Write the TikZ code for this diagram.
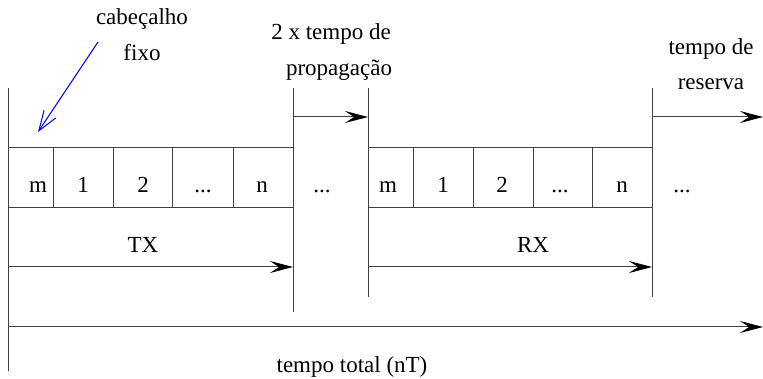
\documentclass[tikz,border=0pt]{standalone}
\usepackage{fontspec}
\setmainfont{Liberation Serif}
\usetikzlibrary{arrows.meta}
\begin{document}
\begin{tikzpicture}[x=1pt,y=-1pt,
  lbl/.style={inner sep=0pt,anchor=base,font=\fontsize{23}{27}\selectfont},
  ln/.style={line width=1pt,draw=black!75},
  arr/.style={ln,-{Stealth[length=23pt,width=12pt,inset=9pt,color=black]}},
  cellbox/.style={draw=black!75,line width=1pt,minimum width=#1,minimum height=60pt,inner sep=0pt,anchor=north west}
]
\useasboundingbox (0,0) rectangle (763,379);
% vertical markers
\coordinate (v0t) at (8,88);   \coordinate (v0b) at (8,371);
\coordinate (v1t) at (293,88); \coordinate (v1b) at (293,312);
\coordinate (v2t) at (368,88); \coordinate (v2b) at (368,297);
\coordinate (v3t) at (652,88); \coordinate (v3b) at (652,297);
\draw[ln] (v0t) -- (v0b);
\draw[ln] (v1t) -- (v1b);
\draw[ln] (v2t) -- (v2b);
\draw[ln] (v3t) -- (v3b);
% TX frame
\node[cellbox=45pt] (tm) at (8,147) {};
\node[cellbox=60pt] (t1) at (53,147) {};
\node[cellbox=59pt] (t2) at (113,147) {};
\node[cellbox=61pt] (t3) at (172,147) {};
\node[cellbox=60pt] (tn) at (233,147) {};
% RX frame
\node[cellbox=45pt] (rm) at (368,147) {};
\node[cellbox=60pt] (r1) at (413,147) {};
\node[cellbox=60pt] (r2) at (473,147) {};
\node[cellbox=59pt] (r3) at (533,147) {};
\node[cellbox=60pt] (rn) at (592,147) {};
% cell labels
\node[lbl] (ltm) at (38,193) {m};
\node[lbl] (lt1) at (83,193) {1};
\node[lbl] (lt2) at (143,193) {2};
\node[lbl] (lt3) at (203,193) {...};
\node[lbl] (ltn) at (262,193) {n};
\node[lbl] (lgap) at (322,193) {...};
\node[lbl] (lrm) at (388,193) {m};
\node[lbl] (lr1) at (443,193) {1};
\node[lbl] (lr2) at (502,193) {2};
\node[lbl] (lr3) at (560,193) {...};
\node[lbl] (lrn) at (622,193) {n};
\node[lbl] (lend) at (682,193) {...};
% arrows
\coordinate (pa) at (293,117); \coordinate (pb) at (368,117);
\draw[arr] (pa) -- (pb);
\coordinate (ra) at (652,117); \coordinate (rb) at (763,117);
\draw[arr] (ra) -- (rb);
\coordinate (txa) at (8,267); \coordinate (txb) at (293,267);
\draw[arr] (txa) -- (txb);
\coordinate (rxa) at (368,267); \coordinate (rxb) at (652,267);
\draw[arr] (rxa) -- (rxb);
\coordinate (tta) at (8,327); \coordinate (ttb) at (763,327);
\draw[arr] (tta) -- (ttb);
% texts
\node[lbl] (cab) at (142,25) {cabeçalho};
\node[lbl] (fixo) at (142,61) {fixo};
\node[lbl] (prop1) at (331,40) {2 x tempo de};
\node[lbl] (prop2) at (339,76) {propagação};
\node[lbl] (res1) at (711,55) {tempo de};
\node[lbl] (res2) at (711,90) {reserva};
\node[lbl] (tx) at (143,253) {TX};
\node[lbl] (rx) at (533,253) {RX};
\node[lbl] (tot) at (352,372) {tempo total (nT)};
% blue pointer
\coordinate (bs) at (98,42); \coordinate (be) at (38,132);
\draw[blue,line width=1pt,-{Straight Barb[length=20pt,width=14pt]}] (bs) -- (be);
\end{tikzpicture}
\end{document}
